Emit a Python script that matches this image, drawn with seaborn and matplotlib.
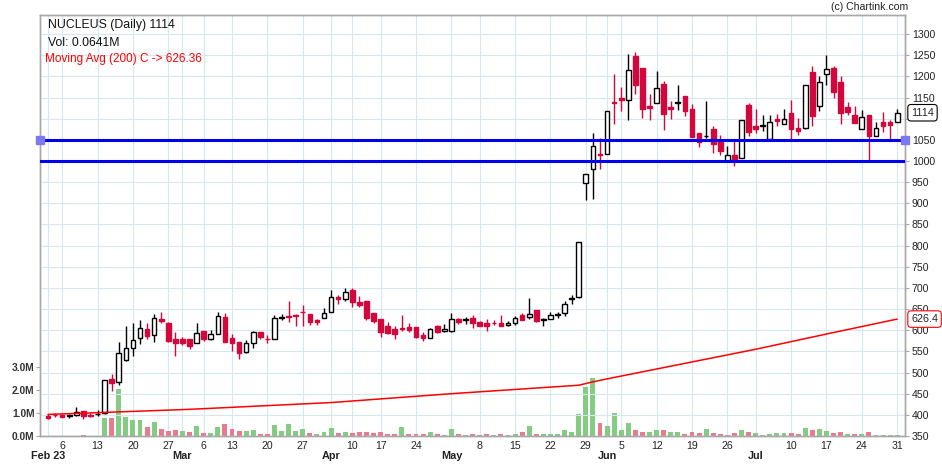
import matplotlib
matplotlib.use('Agg')
import matplotlib.pyplot as plt
import matplotlib.transforms as mtransforms
import seaborn as sns
import numpy as np
import pandas as pd

# dni sesyjne NSE, luty - lipiec 2023
holidays = ['2023-03-07', '2023-03-30', '2023-04-04', '2023-04-07', '2023-04-14', '2023-05-01', '2023-06-29']
days = pd.bdate_range('2023-02-02', '2023-07-31')
days = days[~days.isin(pd.to_datetime(holidays))]
day_str = list(days.strftime('%Y-%m-%d'))

# OHLC
open_px = [398, 400, 400, 398, 400, 409, 400, 401, 404, 484,
           478, 529, 557, 582, 602, 588, 626, 617, 579, 579,
           579, 569, 598, 579, 590, 632, 582, 572, 549, 569,
           595, 580, 579, 629, 634, 636, 643, 639, 625, 629,
           644, 679, 674, 694, 667, 669, 640, 627, 610, 602,
           606, 607, 607, 589, 581, 611, 597, 599, 627, 625,
           630, 619, 618, 617, 617, 612, 616, 636, 631, 648,
           625, 626, 637, 640, 674, 678, 948, 982, 1016, 1017,
           1140, 1150, 1145, 1247, 1220, 1129, 1138, 1183, 1127, 1138,
           1153, 1122, 1067, 1058, 1076, 1046, 1000, 1013, 1008, 1133,
           1082, 1082, 1052, 1099, 1088, 1113, 1077, 1079, 1211, 1131,
           1206, 1219, 1187, 1127, 1108, 1076, 1108, 1059, 1091, 1091,
           1092]
high_px = [401, 404, 401, 401, 419, 410, 404, 411, 483, 497,
           572, 609, 618, 625, 618, 639, 644, 620, 595, 584,
           579, 616, 598, 601, 643, 641, 590, 572, 577, 597,
           595, 588, 636, 638, 668, 638, 660, 639, 626, 652,
           696, 684, 700, 700, 682, 669, 640, 627, 620, 609,
           636, 618, 607, 595, 605, 613, 615, 640, 630, 631,
           636, 622, 626, 623, 636, 621, 634, 640, 675, 648,
           630, 642, 642, 668, 683, 808, 970, 1065, 1055, 1117,
           1206, 1176, 1253, 1257, 1220, 1159, 1212, 1190, 1141, 1179,
           1153, 1134, 1067, 1141, 1082, 1062, 1036, 1049, 1098, 1137,
           1122, 1108, 1108, 1110, 1122, 1143, 1102, 1180, 1225, 1202,
           1250, 1225, 1202, 1139, 1131, 1121, 1108, 1093, 1116, 1096,
           1122]
low_px = [390, 394, 395, 392, 398, 389, 394, 398, 403, 456,
          470, 528, 540, 567, 580, 571, 617, 571, 540, 565,
          556, 569, 575, 576, 590, 571, 552, 532, 547, 557,
          579, 570, 579, 623, 619, 611, 611, 613, 613, 629,
          644, 663, 669, 656, 656, 625, 617, 585, 591, 580,
          598, 595, 582, 575, 581, 593, 595, 595, 614, 615,
          606, 609, 599, 612, 611, 610, 612, 623, 626, 619,
          609, 626, 630, 634, 662, 676, 907, 910, 980, 1017,
          1088, 1118, 1097, 1159, 1101, 1097, 1138, 1074, 1099, 1121,
          1107, 1057, 1033, 1054, 1019, 1013, 1000, 987, 1008, 1059,
          1066, 1072, 1052, 1082, 1088, 1047, 1062, 1076, 1082, 1118,
          1180, 1150, 1087, 1108, 1090, 1076, 1002, 1059, 1069, 1051,
          1092]
close_px = [392, 399, 396, 398.5, 407, 397, 397, 401.5, 482, 476,
            545, 557, 576, 606, 587, 629, 622, 574, 569, 570,
            562, 594, 580, 590, 633, 571, 569, 545, 570, 595,
            583, 579, 629, 630, 631, 633, 642, 619, 620, 640,
            678, 674, 690, 666, 660, 630, 621, 595, 593, 591,
            602, 601, 585, 581, 602, 595, 604, 626, 619, 625.5,
            616, 611, 610, 616, 611, 618, 629, 625, 639, 622,
            626, 636, 638, 662, 675, 808, 970, 1036, 1014, 1117,
            1137, 1143, 1216, 1180, 1123, 1126, 1173, 1112, 1123, 1139,
            1117, 1057, 1046, 1059, 1040, 1024, 1013, 1000, 1098, 1068,
            1076, 1086, 1092, 1094, 1100, 1076, 1071, 1180, 1106, 1187,
            1217, 1163, 1113, 1115, 1090, 1105, 1058, 1079, 1083, 1085,
            1114]
# wolumen w mln
volume_m = [0.01, 0.01, 0.01, 0.01, 0.02, 0.04, 0.01, 0.02, 0.79, 0.79,
            2.05, 0.83, 0.70, 0.70, 0.41, 0.61, 0.31, 0.22, 0.26, 0.22,
            0.17, 0.44, 0.13, 0.13, 0.39, 0.52, 0.31, 0.22, 0.22, 0.26,
            0.09, 0.09, 0.48, 0.22, 0.52, 0.22, 0.31, 0.13, 0.09, 0.17,
            0.35, 0.13, 0.17, 0.13, 0.17, 0.17, 0.13, 0.17, 0.09, 0.09,
            0.39, 0.09, 0.09, 0.09, 0.17, 0.09, 0.04, 0.31, 0.09, 0.04,
            0.09, 0.04, 0.09, 0.04, 0.09, 0.04, 0.09, 0.17, 0.44, 0.09,
            0.09, 0.09, 0.09, 0.26, 0.17, 0.96, 2.14, 2.53, 0.57, 0.44,
            1.00, 0.26, 0.57, 0.26, 0.17, 0.17, 0.26, 0.26, 0.17, 0.17,
            0.09, 0.17, 0.13, 0.31, 0.13, 0.09, 0.04, 0.13, 0.26, 0.17,
            0.13, 0.04, 0.09, 0.13, 0.13, 0.13, 0.09, 0.35, 0.26, 0.31,
            0.22, 0.13, 0.17, 0.09, 0.09, 0.09, 0.17, 0.04, 0.04, 0.04,
            0.06]

# srednia 200-sesyjna (punkty odczytane)
ma_days = ['2023-02-02', '2023-03-02', '2023-04-03', '2023-05-02', '2023-05-26',
           '2023-05-30', '2023-06-01', '2023-07-03', '2023-07-17', '2023-07-31']
ma_vals = [401, 413, 429, 450, 470, 478, 485, 555, 591, 626.36]

week_days = ['2023-02-06', '2023-02-13', '2023-02-20', '2023-02-27', '2023-03-06', '2023-03-13',
             '2023-03-20', '2023-03-27', '2023-04-10', '2023-04-17', '2023-04-24', '2023-05-08',
             '2023-05-15', '2023-05-22', '2023-05-29', '2023-06-05', '2023-06-12', '2023-06-19',
             '2023-06-26', '2023-07-10', '2023-07-17', '2023-07-24', '2023-07-31']
week_labels = ['6', '13', '20', '27', '6', '13', '20', '27', '10', '17', '24', '8',
               '15', '22', '29', '5', '12', '19', '26', '10', '17', '24', '31']
month_days = ['2023-02-02', '2023-03-01', '2023-04-03', '2023-05-02', '2023-06-01', '2023-07-03']
month_labels = ['Feb 23', 'Mar', 'Apr', 'May', 'Jun', 'Jul']

levels = [1050, 1000]
price_ticks = np.arange(350, 1301, 50)
vol_ticks = [0, 1, 2, 3]
vol_tick_labels = ['0.0M', '1.0M', '2.0M', '3.0M']

sns.set_style('white')
plt.rcParams['font.family'] = ['Liberation Sans', 'DejaVu Sans']

pos = {d: i for i, d in enumerate(day_str)}
o = np.array(open_px, dtype=float)
h = np.array(high_px, dtype=float)
l = np.array(low_px, dtype=float)
c = np.array(close_px, dtype=float)
x = np.arange(len(day_str))
vol_up = [i == 0 or c[i] >= c[i - 1] for i in range(len(c))]

red = '#d2083c'
vol_green = '#84cc84'
vol_red = '#e97b90'
grid_c = '#d6e8ee'
spine_c = '#a8a8a8'

fig = plt.figure(figsize=(9.42, 4.65), dpi=100)
ax_vol = fig.add_axes([40 / 942, 29 / 465, 865 / 942, 421 / 465])
ax = ax_vol.twinx()

# wolumen
sns.barplot(x=day_str, y=volume_m, color=vol_green, width=0.7, saturation=1, errorbar=None, ax=ax_vol)
for p, u in zip(ax_vol.patches, vol_up):
    p.set_facecolor(vol_green if u else vol_red)
    p.set_edgecolor('none')
ax_vol.set_xlabel('')
ax_vol.set_ylabel('')

# swiece
up = c >= o
ax.vlines(x, l, h, colors=np.where(up, 'black', red), lw=1, zorder=3)
body_h = np.maximum(np.abs(c - o), 1.2)
ax.bar(x, body_h, bottom=np.minimum(o, c), width=0.66, color=np.where(up, 'white', red),
       edgecolor=np.where(up, 'black', red), lw=1, zorder=4)

sns.lineplot(x=[pos[d] for d in ma_days], y=ma_vals, color='#ff0000', lw=1.1, ax=ax, zorder=5)

xmin, xmax = -1.13, 121.1
for lv in levels:
    ax.axhline(lv, color='#0000ee', lw=2.2, zorder=6)
ax.plot([xmin, xmax], [levels[0], levels[0]], ls='none', marker='s', ms=6, color='#7b7bef',
        clip_on=False, zorder=7)

ax.set_xlim(xmin, xmax)
ax.set_ylim(350, 1345)
ax_vol.set_ylim(0, 18.4)

# osie
ax.set_yticks(price_ticks)
# 1100 schowane pod etykieta ostatniego kursu
ax.set_yticklabels(['' if v == 1100 else str(v) for v in price_ticks])
ax.tick_params(axis='y', length=3, color=spine_c, labelsize=7.6, pad=2, labelcolor='#222')
ax.grid(axis='y', color=grid_c, lw=0.8)
ax.set_axisbelow(True)
ax.set_ylabel('')

ax_vol.set_yticks(vol_ticks)
ax_vol.set_yticklabels(vol_tick_labels, fontweight='bold')
ax_vol.tick_params(axis='y', length=3, color=spine_c, labelsize=7.4, pad=1, labelcolor='#333')

ax_vol.set_xticks([pos[d] for d in month_days])
ax_vol.set_xticklabels(month_labels, fontweight='bold')
ax_vol.set_xticks([pos[d] for d in week_days], labels=week_labels, minor=True)
ax_vol.tick_params(axis='x', which='major', length=9, width=1, color=spine_c, pad=1.5,
                   labelsize=7.8, labelcolor='#222')
ax_vol.tick_params(axis='x', which='minor', length=0, pad=3.5, labelsize=7.6, labelcolor='#222')
ax_vol.grid(axis='x', which='both', color=grid_c, lw=0.8)
ax_vol.set_axisbelow(True)

for a in (ax, ax_vol):
    for s in a.spines.values():
        s.set_color(spine_c)
        s.set_linewidth(1)

# etykiety wartosci po prawej
trans = mtransforms.blended_transform_factory(ax.transAxes, ax.transData)
ax.text(1.007, c[-1], '1114', transform=trans, va='center', ha='left', fontsize=7.8, zorder=10,
        bbox=dict(boxstyle='round,pad=0.3', fc='white', ec='black', lw=0.8))
ax.text(1.007, ma_vals[-1], '626.4', transform=trans, va='center', ha='left', fontsize=7.8, zorder=10,
        bbox=dict(boxstyle='round,pad=0.3', fc='white', ec='red', lw=0.8))

fig.text(48 / 942, 1 - 25 / 465, 'NUCLEUS (Daily) 1114', fontsize=8.8, va='center', color='#111')
fig.text(48 / 942, 1 - 43 / 465, 'Vol: 0.0641M', fontsize=8.8, va='center', color='#111')
fig.text(45 / 942, 1 - 59 / 465, 'Moving Avg (200) C -> 626.36', fontsize=8.5, va='center', color='red')
fig.text(908 / 942, 1 - 7 / 465, '(c) Chartink.com', fontsize=7.6, va='center', ha='right', color='#222')

fig.savefig('out.png', dpi=100)
